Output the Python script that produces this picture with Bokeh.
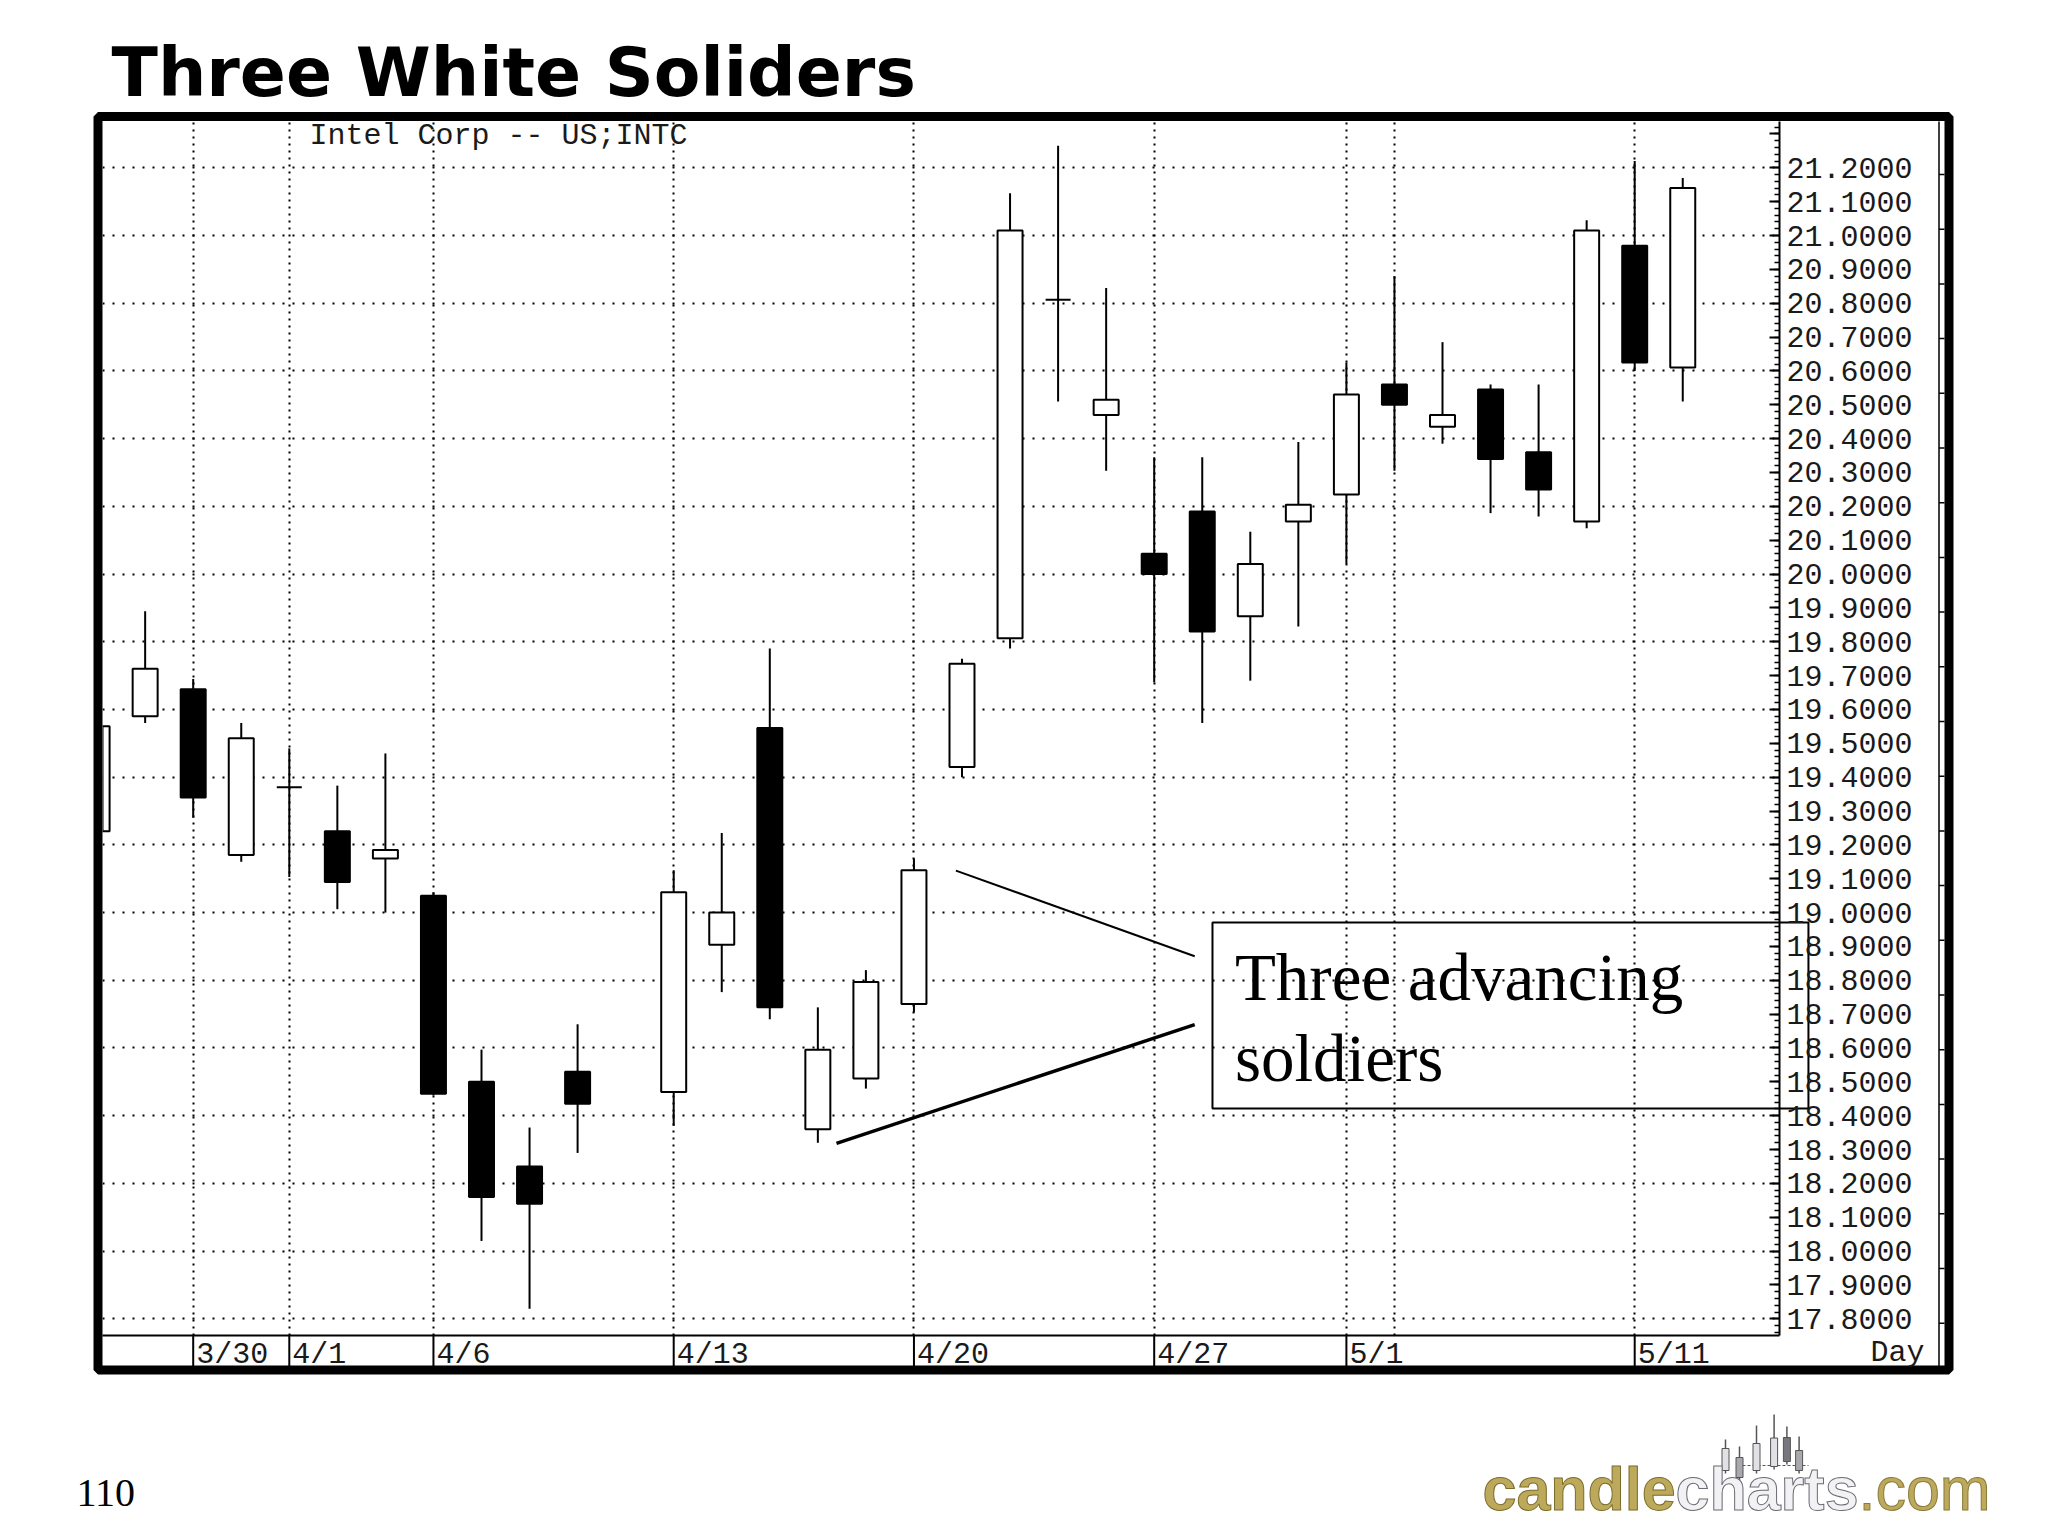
import pandas as pd
from bokeh.plotting import figure
from bokeh.models import (Range1d, FixedTicker, PrintfTickFormatter, Label, ColumnDataSource, GridBox)
from bokeh.embed import file_html
from bokeh.resources import INLINE

# ---------------- data (Intel Corp, daily, 1998) ----------------
dates = ["1998-03-26", "1998-03-27", "1998-03-30", "1998-03-31", "1998-04-01", "1998-04-02",
         "1998-04-03", "1998-04-06", "1998-04-07", "1998-04-08", "1998-04-09", "1998-04-13",
         "1998-04-14", "1998-04-15", "1998-04-16", "1998-04-17", "1998-04-20", "1998-04-21",
         "1998-04-22", "1998-04-23", "1998-04-24", "1998-04-27", "1998-04-28", "1998-04-29",
         "1998-04-30", "1998-05-01", "1998-05-04", "1998-05-05", "1998-05-06", "1998-05-07",
         "1998-05-08", "1998-05-11", "1998-05-12"]
open_ = [19.24, 19.58, 19.66, 19.17, 19.37, 19.24, 19.16, 19.05, 18.50, 18.25, 18.53, 18.47,
         18.905, 19.545, 18.36, 18.51, 18.73, 19.43, 19.81, 20.81, 20.47, 20.06, 20.185, 19.875,
         20.155, 20.235, 20.56, 20.435, 20.545, 20.36, 20.155, 20.97, 20.61]
high = [19.58, 19.89, 19.69, 19.56, 19.485, 19.375, 19.47, 19.06, 18.595, 18.365, 18.67, 19.125,
        19.235, 19.78, 18.72, 18.83, 19.16, 19.75, 21.125, 21.265, 20.845, 20.345, 20.345, 20.125,
        20.39, 20.625, 20.88, 20.685, 20.56, 20.56, 21.045, 21.22, 21.17]
low = [19.20, 19.56, 19.28, 19.15, 19.105, 19.01, 19.00, 18.46, 18.03, 17.83, 18.29, 18.37,
       18.765, 18.685, 18.32, 18.48, 18.705, 19.40, 19.78, 20.51, 20.305, 19.68, 19.56, 19.685,
       19.845, 20.03, 20.305, 20.385, 20.18, 20.17, 20.135, 20.60, 20.51]
close = [19.55, 19.72, 19.34, 19.515, 19.37, 19.09, 19.185, 18.465, 18.16, 18.14, 18.435, 19.06,
         19.00, 18.72, 18.595, 18.795, 19.125, 19.735, 21.015, 20.81, 20.515, 20.00, 19.83, 20.03,
         20.205, 20.53, 20.50, 20.47, 20.34, 20.25, 21.015, 20.625, 21.14]

tick_dates = ["1998-03-30", "1998-04-01", "1998-04-06", "1998-04-13", "1998-04-20",
              "1998-04-27", "1998-05-01", "1998-05-11"]
tick_labels = ["3/30", "4/1", "4/6", "4/13", "4/20", "4/27", "5/1", "5/11"]
grid_dates = tick_dates + ["1998-05-04"]
price_labels = [round(17.8 + 0.1 * i, 1) for i in range(36)]      # 17.8 ... 21.3
price_minor = [round(17.76 + 0.02 * i, 2) for i in range(179)]
price_grid = [round(17.8 + 0.2 * i, 1) for i in range(18)]       # 17.8 ... 21.2

# ---------------- x positions: trading-day slots (holiday 4/10 leaves a gap) ----------------
bdays = pd.bdate_range(dates[0], dates[-1])
def slot(ds):
    return [int(i) for i in bdays.get_indexer(pd.to_datetime(ds))]

xs = slot(dates)
tick_slots = slot(tick_dates)
grid_slots = slot(grid_dates)

# ---------------- pixel helpers (layout only) ----------------
PX0, DX = 96.6, 48.05          # canvas x of slot 0, pixels per slot
PY0, DY = 167.3, 338.53        # canvas y of 21.2, pixels per 1.0 price
def X(px):
    return (px - PX0) / DX
def Y(py):
    return 21.2 - (py - PY0) / DY

FL, FR, FT, FB = 102, 1779, 121, 1335   # chart frame in canvas pixels
W, H = 2032, 1532
MONO = "Liberation Mono"
FS = 30

def label(fig, px, py, text, font, size, color="black", style="normal", align="left", **kw):
    # py is the wanted baseline; labels render about 0.33 em low, so lift them
    fig.add_layout(Label(x=X(px), y=Y(py - 0.33 * size), text=text, text_font=font,
                         text_font_style=style, text_font_size=f"{size}px", text_color=color,
                         text_align=align, text_baseline="alphabetic", **kw))

# =============== background figure: slide, frame box, strip, logo ===============
bg = figure(width=W, height=H, x_range=Range1d(X(0), X(W)), y_range=Range1d(Y(H), Y(0)),
            output_backend="svg", toolbar_location=None, title=None,
            x_axis_location=None, y_axis_location=None, min_border=0)
bg.frame_align = False
bg.outline_line_color = None
bg.background_fill_color = "white"
bg.border_fill_color = "white"
bg.grid.visible = False

# thick chart border
bg.quad(left=[X(97.5)], right=[X(1948.5)], top=[Y(116)], bottom=[Y(1369.5)],
        fill_color=None, line_color="black", line_width=9)
# thin inner line with small ticks at the right edge
thin_x, thin_y = [X(1938.5)], [Y(121)]
for k in range(22):
    yy = 174 + 54.7 * k
    thin_x += [X(1938.5), X(1944), X(1938.5)]
    thin_y += [Y(yy), Y(yy), Y(yy)]
thin_x.append(X(1938.5))
thin_y.append(Y(1366))
bg.line(thin_x, thin_y, line_color="black", line_width=1.5)
# date-strip separators
bg.segment(x0=tick_slots, y0=[Y(FB)] * len(tick_slots), x1=tick_slots, y1=[Y(1366)] * len(tick_slots),
           line_color="black", line_width=2)
label(bg, 1924, 1362, "Day", MONO, FS, color="#1a1a1a", align="right")
# annotation box (spills over the price scale)
bg.quad(left=[23.213], right=[35.616], bottom=[18.421], top=[18.971],
        fill_color=None, line_color="black", line_width=2)

# slide texts
label(bg, 111, 94, "Three White Soliders", "DejaVu Sans", 68, style="bold")
label(bg, 76, 1506, "110", "Liberation Serif", 40)
# logo
logo_parts = [("candle", 1482, "bold", "#bca95c", "#7d6d2a"),
              ("charts", 1675, "bold", "#f2f2f4", "#6b6b73"),
              (".com", 1858, "normal", "#bca95c", "#8a7a3a")]
for txt, px, style, col, outl in logo_parts:
    label(bg, px, 1509, txt, "Liberation Sans", 61, color=col, style=style, text_outline_color=outl)
logo_candles = [(1725, 1439, 1448, 1470, "#e2e2e6"), (1739, 1446, 1457, 1477, "#a8a8ae"),
                (1756, 1425, 1443, 1470, "#e2e2e6"), (1773.6, 1414, 1437.5, 1466, "#e2e2e6"),
                (1786.4, 1426, 1437, 1461, "#77777d"), (1798.6, 1436, 1450, 1470, "#a8a8ae")]
bg.line([X(1742), X(1808)], [Y(1465), Y(1465)], line_color="#555555", line_width=1, line_dash="3 2")
for cx, wt, bt, bb, fc in logo_candles:
    bg.line([X(cx), X(cx)], [Y(wt), Y(bb + 3)], line_color="#555555", line_width=1.5)
    bg.quad(left=[X(cx - 3.5)], right=[X(cx + 3.5)], top=[Y(bt)], bottom=[Y(bb)],
            fill_color=fc, line_color="#555555", line_width=1)

# =============== chart figure (transparent, on top) ===============
p = figure(width=W, height=H, x_range=Range1d(X(FL), X(FR)), y_range=Range1d(Y(FB), Y(FT)),
           output_backend="svg", toolbar_location=None, title=None, y_axis_location="right",
           min_border_left=FL, min_border_right=W - FR, min_border_top=FT, min_border_bottom=H - FB)
p.frame_align = False
p.outline_line_color = None
p.background_fill_color = None
p.border_fill_color = None

ya = p.yaxis[0]
ya.ticker = FixedTicker(ticks=price_labels, minor_ticks=price_minor)
ya.formatter = PrintfTickFormatter(format="%.4f")
ya.major_label_overrides = {21.3: ""}
ya.axis_line_width = 2
ya.major_tick_in = 10
ya.major_tick_out = 0
ya.major_tick_line_width = 2
ya.minor_tick_in = 5
ya.minor_tick_out = 0
ya.minor_tick_line_width = 1.5
ya.major_label_standoff = 7
ya.major_label_text_font = MONO
ya.major_label_text_font_size = f"{FS}px"
ya.major_label_text_color = "#1a1a1a"

label_pos = [round(s + (3 + len(t) * 0.6 * FS / 2) / DX, 4) for s, t in zip(tick_slots, tick_labels)]
xa = p.xaxis[0]
xa.ticker = FixedTicker(ticks=label_pos)
xa.major_label_overrides = {pos: t for pos, t in zip(label_pos, tick_labels)}
xa.axis_line_width = 2
xa.major_tick_in = 0
xa.major_tick_out = 0
xa.minor_tick_in = 0
xa.minor_tick_out = 0
xa.major_label_standoff = 2
xa.major_label_text_font = MONO
xa.major_label_text_font_size = f"{FS}px"
xa.major_label_text_color = "#1a1a1a"

p.xgrid.ticker = FixedTicker(ticks=grid_slots)
p.xgrid.grid_line_color = "black"
p.xgrid.grid_line_dash = "2 5"
p.xgrid.grid_line_width = 2
p.ygrid.ticker = FixedTicker(ticks=price_grid)
p.ygrid.grid_line_color = "black"
p.ygrid.grid_line_dash = "2 8"
p.ygrid.grid_line_width = 2

src = ColumnDataSource(dict(
    x=xs, high=high, low=low,
    top=[max(o, c) for o, c in zip(open_, close)],
    bottom=[min(o, c) for o, c in zip(open_, close)],
    fill=["white" if c >= o else "black" for o, c in zip(open_, close)],
))
p.segment(x0="x", y0="low", x1="x", y1="high", source=src, line_color="black", line_width=2)
p.vbar(x="x", width=0.52, top="top", bottom="bottom", source=src,
       fill_color="fill", line_color="black", line_width=2)

# annotation
p.line([17.873, 22.843], [19.124, 18.871], line_color="black", line_width=2)
p.line([15.388, 22.843], [18.318, 18.669], line_color="black", line_width=3.5)
label(p, 1234.4, 998.3, "Three advancing", "Liberation Serif", 67)
label(p, 1234.4, 1080, "soldiers", "Liberation Serif", 67)
label(p, 309, 145, "Intel Corp -- US;INTC", MONO, FS, color="#1a1a1a")

layout = GridBox(children=[(bg, 0, 0), (p, 0, 0)])
open("out.html", "w").write(file_html(layout, INLINE))
